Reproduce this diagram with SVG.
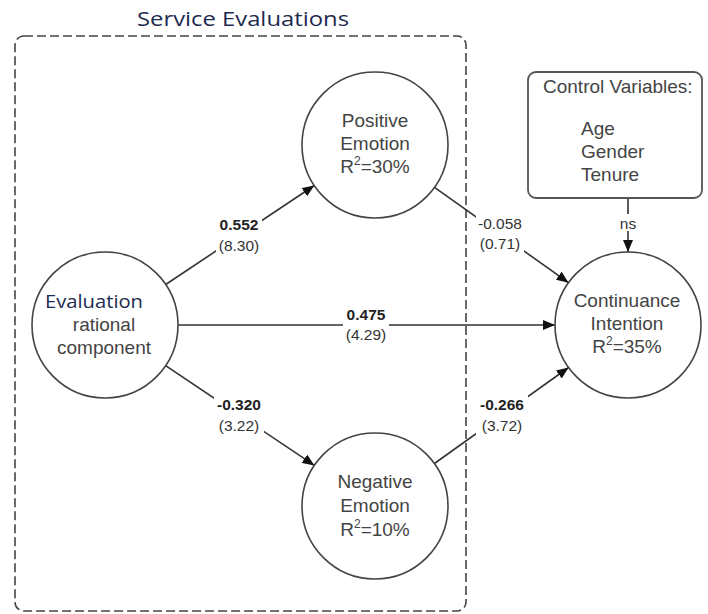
<svg xmlns="http://www.w3.org/2000/svg" width="708" height="614" viewBox="0 0 708 614">
<style>
.nt{font-family:"Liberation Sans",Arial,sans-serif;font-size:19px;fill:#444;text-anchor:middle}
.cv{font-family:"Liberation Sans",Arial,sans-serif;font-size:19px;fill:#444}
.cal{font-family:"Open Sans","Noto Sans",sans-serif;fill:#1c2a50}
.lb{font-family:"Liberation Sans",Arial,sans-serif;font-size:15.5px;fill:#333;text-anchor:middle}
.b{font-weight:bold;fill:#222}
.node{fill:#fff;stroke:#444;stroke-width:1.6}
.edge{stroke:#333;stroke-width:1.6;fill:none;marker-end:url(#ah)}
.bg{fill:#fff}
</style>
<defs>
<marker id="ah" markerUnits="userSpaceOnUse" markerWidth="13" markerHeight="10" refX="12" refY="5" orient="auto">
<path d="M0,0 L12,5 L0,10 z" fill="#111"/>
</marker>
</defs>
<rect width="708" height="614" fill="#fff"/>
<g id="group-service-evaluations">
<rect x="15" y="36" width="451" height="575" rx="9" fill="none" stroke="#444" stroke-width="1.6" stroke-dasharray="9 4"/>
<text class="cal" x="243" y="26" font-size="19.5" text-anchor="middle" textLength="212" lengthAdjust="spacingAndGlyphs">Service Evaluations</text>
</g>
<g id="connectors">
<line class="edge" x1="165.7" y1="284.5" x2="314.3" y2="185.5"/>
<line class="edge" x1="434.5" y1="187.3" x2="568.5" y2="282.7"/>
<line class="edge" x1="178" y1="325" x2="555" y2="325"/>
<line class="edge" x1="165.6" y1="365.6" x2="314.4" y2="465.4"/>
<line class="edge" x1="434.4" y1="463.5" x2="568.6" y2="367.5"/>
<line class="edge" x1="628" y1="198" x2="628" y2="252"/>
<g id="label-eval-pos"><rect class="bg" x="216" y="215" width="46" height="41"/><text class="lb b" x="239" y="230">0.552</text><text class="lb" x="239" y="251">(8.30)</text></g>
<g id="label-pos-cont"><rect class="bg" x="476" y="214" width="48" height="41"/><text class="lb" x="500" y="229">-0.058</text><text class="lb" x="500" y="249">(0.71)</text></g>
<g id="label-eval-cont"><rect class="bg" x="343" y="305" width="46" height="40"/><text class="lb b" x="366" y="320">0.475</text><text class="lb" x="366" y="340">(4.29)</text></g>
<g id="label-eval-neg"><rect class="bg" x="214" y="395" width="50" height="41"/><text class="lb b" x="239" y="410">-0.320</text><text class="lb" x="239" y="431">(3.22)</text></g>
<g id="label-neg-cont"><rect class="bg" x="476" y="395" width="52" height="41"/><text class="lb b" x="502" y="410">-0.266</text><text class="lb" x="502" y="431">(3.72)</text></g>
<g id="label-ns"><rect class="bg" x="617" y="214" width="22" height="17"/><text class="lb" x="628" y="229" font-size="13.5">ns</text></g>
</g>
<g id="node-evaluation">
<circle class="node" cx="105" cy="325" r="73"/>
<text class="cal" x="45" y="308" font-size="18" textLength="98" lengthAdjust="spacingAndGlyphs">Evaluation</text>
<text class="nt" x="104" y="331">rational</text>
<text class="nt" x="104" y="354">component</text>
</g>
<g id="node-positive-emotion">
<circle class="node" cx="375" cy="145" r="73"/>
<text class="nt" x="375" y="127">Positive</text>
<text class="nt" x="375" y="150">Emotion</text>
<text class="nt" x="375" y="173">R<tspan font-size="12" dy="-8">2</tspan><tspan dy="8">=30%</tspan></text>
</g>
<g id="node-negative-emotion">
<circle class="node" cx="375" cy="506" r="73"/>
<text class="nt" x="375" y="488">Negative</text>
<text class="nt" x="375" y="512">Emotion</text>
<text class="nt" x="375" y="536">R<tspan font-size="12" dy="-8">2</tspan><tspan dy="8">=10%</tspan></text>
</g>
<g id="node-continuance-intention">
<circle class="node" cx="628" cy="325" r="73"/>
<text class="nt" x="627" y="307">Continuance</text>
<text class="nt" x="627" y="330">Intention</text>
<text class="nt" x="627" y="353">R<tspan font-size="12" dy="-8">2</tspan><tspan dy="8">=35%</tspan></text>
</g>
<g id="node-control-variables">
<rect x="528" y="72" width="174" height="126" rx="8" fill="#fff" stroke="#555" stroke-width="1.8"/>
<text class="cv" x="543" y="93">Control Variables:</text>
<text class="cv" x="581" y="135">Age</text>
<text class="cv" x="581" y="158">Gender</text>
<text class="cv" x="581" y="181">Tenure</text>
</g>
</svg>
